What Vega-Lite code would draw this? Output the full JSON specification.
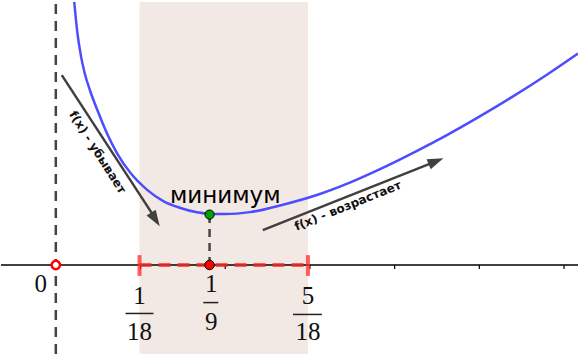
{
  "$schema": "https://vega.github.io/schema/vega-lite/v6.json",
  "width": 579,
  "height": 356,
  "autosize": {"type": "fit", "contains": "padding"},
  "padding": 0,
  "config": {"view": {"stroke": null}},
  "encoding": {
    "x": {"field": "x", "type": "quantitative", "scale": {"domain": [-0.64706, 6.16471], "nice": false, "zero": false}, "axis": null},
    "y": {"field": "y", "type": "quantitative", "scale": {"domain": [-1.05882, 3.12941], "nice": false, "zero": false}, "axis": null}
  },
  "layer": [
    {
      "data": {"values": [{"x": 0.98824, "x2": 2.97647, "y": -1.05882, "y2": 3.12941}]},
      "mark": {"type": "rect", "color": "#f2e8e4"},
      "encoding": {"x2": {"field": "x2"}, "y2": {"field": "y2"}}
    },
    {
      "data": {"values": [{"x": 0, "y": -1.05882, "y2": 3.12941}]},
      "mark": {"type": "rule", "color": "#444444", "strokeWidth": 2.5, "strokeDash": [10, 7]},
      "encoding": {"y2": {"field": "y2"}}
    },
    {
      "data": {"values": [{"x": -0.64706, "x2": 6.16471, "y": 0}]},
      "mark": {"type": "rule", "color": "#000000", "strokeWidth": 1.5},
      "encoding": {"x2": {"field": "x2"}}
    },
    {
      "data": {"values": [
        {"x": 1, "y": 0, "y2": -0.047},
        {"x": 2, "y": 0, "y2": -0.047},
        {"x": 3, "y": 0, "y2": -0.047},
        {"x": 4, "y": 0, "y2": -0.047},
        {"x": 5, "y": 0, "y2": -0.047},
        {"x": 6, "y": 0, "y2": -0.047}
      ]},
      "mark": {"type": "rule", "color": "#000000", "strokeWidth": 1.2},
      "encoding": {"y2": {"field": "y2"}}
    },
    {
      "data": {"values": [{"x": 0.98824, "x2": 2.97647, "y": 0}]},
      "mark": {"type": "rule", "color": "#ff2a2a", "opacity": 0.75, "strokeWidth": 4, "strokeDash": [12, 7]},
      "encoding": {"x2": {"field": "x2"}}
    },
    {
      "data": {"values": [
        {"x": 0.98824, "y": 0.1176, "y2": -0.1294},
        {"x": 2.97647, "y": 0.1176, "y2": -0.1294}
      ]},
      "mark": {"type": "rule", "color": "#ff2a2a", "opacity": 0.75, "strokeWidth": 4},
      "encoding": {"y2": {"field": "y2"}}
    },
    {
      "data": {"values": [{"x": 1.8153, "y": 0, "y2": 0.6}]},
      "mark": {"type": "rule", "color": "#444444", "strokeWidth": 2.5, "strokeDash": [8, 6]},
      "encoding": {"y2": {"field": "y2"}}
    },
    {
      "data": {"values": [
        {"x": 0.2176, "y": 3.1294},
        {"x": 0.2529, "y": 2.7765},
        {"x": 0.2976, "y": 2.4824},
        {"x": 0.3412, "y": 2.2824},
        {"x": 0.4059, "y": 2.0706},
        {"x": 0.4941, "y": 1.8353},
        {"x": 0.6047, "y": 1.5647},
        {"x": 0.7235, "y": 1.3294},
        {"x": 0.8824, "y": 1.0941},
        {"x": 1.0788, "y": 0.8941},
        {"x": 1.2741, "y": 0.7565},
        {"x": 1.4706, "y": 0.6788},
        {"x": 1.6671, "y": 0.6271},
        {"x": 1.8235, "y": 0.6082},
        {"x": 2.0, "y": 0.6059},
        {"x": 2.2941, "y": 0.6294},
        {"x": 2.6824, "y": 0.7176},
        {"x": 3.0824, "y": 0.8329},
        {"x": 3.4706, "y": 0.98},
        {"x": 3.8588, "y": 1.1553},
        {"x": 4.2588, "y": 1.3553},
        {"x": 4.6118, "y": 1.5424},
        {"x": 5.0, "y": 1.7647},
        {"x": 5.3882, "y": 2.0},
        {"x": 5.7882, "y": 2.2588},
        {"x": 6.1647, "y": 2.5176}
      ]},
      "mark": {"type": "line", "color": "#4d4dff", "strokeWidth": 2.5, "interpolate": "monotone", "clip": true}
    },
    {
      "data": {"values": [
        {"x": 0.0706, "y": 2.2588, "x2": 1.1529, "y2": 0.5882},
        {"x": 2.4435, "y": 0.4153, "x2": 4.4353, "y2": 1.2118}
      ]},
      "mark": {"type": "rule", "color": "#404040", "strokeWidth": 2.5},
      "encoding": {"x2": {"field": "x2"}, "y2": {"field": "y2"}}
    },
    {
      "data": {"values": [{"x": 1.2271, "y": 0.4624}]},
      "mark": {"type": "point", "shape": "M0,0L-0.34,1L0.34,1Z", "size": 1024, "angle": 147.3, "filled": true, "color": "#404040", "opacity": 1}
    },
    {
      "data": {"values": [{"x": 4.5765, "y": 1.2706}]},
      "mark": {"type": "point", "shape": "M0,0L-0.34,1L0.34,1Z", "size": 1024, "angle": 68.1, "filled": true, "color": "#404040", "opacity": 1}
    },
    {
      "data": {"values": [{"x": 0.4941, "y": 1.3412, "t": "f(x) - убывает"}]},
      "mark": {"type": "text", "font": "DejaVu Sans", "fontWeight": "bold", "fontSize": 12, "angle": 57.5, "align": "center", "baseline": "middle", "color": "#111111"},
      "encoding": {"text": {"field": "t"}}
    },
    {
      "data": {"values": [{"x": 3.4471, "y": 0.7059, "t": "f(x) - возрастает"}]},
      "mark": {"type": "text", "font": "DejaVu Sans", "fontWeight": "bold", "fontSize": 12, "angle": -22, "align": "center", "baseline": "middle", "color": "#111111"},
      "encoding": {"text": {"field": "t"}}
    },
    {
      "data": {"values": [{"x": 2.0, "y": 0.7412, "t": "минимум"}]},
      "mark": {"type": "text", "font": "DejaVu Sans", "fontSize": 23, "align": "center", "baseline": "alphabetic", "color": "#000000"},
      "encoding": {"text": {"field": "t"}}
    },
    {
      "data": {"values": [
        {"x": -0.1765, "y": -0.3176, "t": "0"},
        {"x": 0.98824, "y": -0.4588, "t": "1"},
        {"x": 0.98824, "y": -0.8941, "t": "18"},
        {"x": 1.8353, "y": -0.3176, "t": "1"},
        {"x": 1.8353, "y": -0.7765, "t": "9"},
        {"x": 2.97647, "y": -0.4588, "t": "5"},
        {"x": 2.97647, "y": -0.8941, "t": "18"}
      ]},
      "mark": {"type": "text", "font": "Liberation Serif", "fontSize": 25, "align": "center", "baseline": "alphabetic", "color": "#111111"},
      "encoding": {"text": {"field": "t"}}
    },
    {
      "data": {"values": [
        {"x": 0.8235, "x2": 1.1529, "y": -0.5765},
        {"x": 1.7412, "x2": 1.9176, "y": -0.4471},
        {"x": 2.8, "x2": 3.1412, "y": -0.5882}
      ]},
      "mark": {"type": "rule", "color": "#222222", "strokeWidth": 1.5},
      "encoding": {"x2": {"field": "x2"}}
    },
    {
      "data": {"values": [{"x": 0, "y": 0}]},
      "mark": {"type": "point", "shape": "circle", "size": 70, "filled": false, "fill": "#ffffff", "stroke": "#ff0000", "strokeWidth": 2.5, "opacity": 1}
    },
    {
      "data": {"values": [{"x": 1.8153, "y": 0}]},
      "mark": {"type": "point", "shape": "circle", "size": 90, "filled": true, "fill": "#ff0000", "stroke": "#000000", "strokeWidth": 1, "opacity": 1}
    },
    {
      "data": {"values": [{"x": 1.8153, "y": 0.6}]},
      "mark": {"type": "point", "shape": "circle", "size": 85, "filled": true, "fill": "#00a000", "stroke": "#000000", "strokeWidth": 1, "opacity": 1}
    }
  ]
}
